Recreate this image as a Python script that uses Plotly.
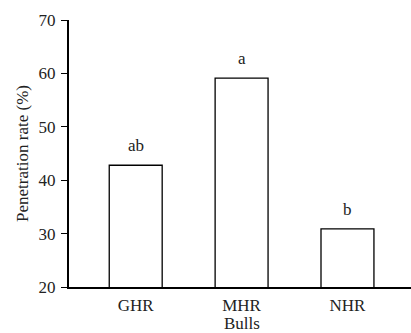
import plotly.graph_objects as go

categories = ["GHR", "MHR", "NHR"]
values = [42.8, 59.1, 30.9]
letters = ["ab", "a", "b"]
y_ticks = [20, 30, 40, 50, 60, 70]

FONT = "Liberation Serif, Times New Roman, serif"
FS = 17

fig = go.Figure()
fig.add_trace(go.Bar(
    x=categories, y=values, width=0.5,
    marker=dict(color="white", line=dict(color="black", width=1.3)),
    showlegend=False,
))
for c, v, t in zip(categories, values, letters):
    fig.add_annotation(x=c, y=v, text=t, showarrow=False, yanchor="bottom",
                       yshift=8, font=dict(family=FONT, size=FS, color="#222"))

# x-axis title placed as an annotation just below the tick labels
fig.add_annotation(x="MHR", xref="x", y=0, yref="paper", yshift=-36,
                   text="Bulls", showarrow=False, yanchor="middle",
                   font=dict(family=FONT, size=FS, color="#222"))

fig.update_layout(
    width=411, height=333,
    margin=dict(l=69, r=0, t=20, b=46),
    paper_bgcolor="white", plot_bgcolor="white",
    font=dict(family=FONT, size=FS, color="#222"),
    bargap=0.5,
)
fig.update_xaxes(
    range=[-0.63, 2.6], showline=True, linecolor="black", linewidth=2,
    ticks="", showgrid=False, zeroline=False, ticklabelstandoff=2,
    tickfont=dict(family=FONT, size=FS),
)
fig.update_yaxes(
    range=[20, 70], tickvals=y_ticks, showline=True, linecolor="black", linewidth=2,
    ticks="outside", ticklen=6, tickwidth=1, tickcolor="black",
    showgrid=False, zeroline=False, ticklabelstandoff=2,
    title=dict(text="Penetration rate (%)", standoff=6, font=dict(family=FONT, size=FS)),
    tickfont=dict(family=FONT, size=FS),
)
fig.write_html("out.html")
